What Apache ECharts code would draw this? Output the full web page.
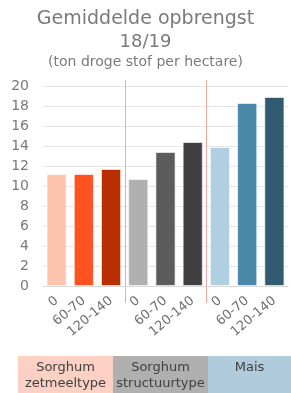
<!DOCTYPE html>
<html lang="nl">
<head>
<meta charset="UTF-8">
<title>Gemiddelde opbrengst</title>
<script src="https://cdn.jsdelivr.net/npm/echarts@6/dist/echarts.min.js"></script>
<style>
  html, body { margin: 0; padding: 0; background: #fff; }
  #main { width: 291px; height: 393px; }
</style>
</head>
<body>
<div id="main"></div>
<script>
// labels under the bars (dose N)
const categories = ['0', '60-70', '120-140', '0', '60-70', '120-140', '0', '60-70', '120-140'];
// ton droge stof per hectare
const values = [11.2, 11.2, 11.7, 10.7, 13.4, 14.4, 13.9, 18.3, 18.9];
const barColors = ['#ffc4ae', '#ff5220', '#b82e00', '#b0b0b0', '#5c5c5c', '#404040', '#b0cfe0', '#4a88aa', '#325a70'];
const groups = ['Sorghum\nzetmeeltype', 'Sorghum\nstructuurtype', 'Mais'];
const groupColors = ['#fdd0c4', '#b0b0b0', '#b0ccdc'];
const yTicks = [0, 20, 2];

const font = 'DejaVu Sans';
const chart = echarts.init(document.getElementById('main'));

const option = {
  animation: false,
  title: [
    { text: 'Gemiddelde opbrengst', left: 'center', top: 5, textStyle: { fontFamily: font, fontSize: 19, fontWeight: 'normal', color: '#7a7a7a' } },
    { text: '18/19', left: 'center', top: 28, textStyle: { fontFamily: font, fontSize: 18, fontWeight: 'normal', color: '#7a7a7a' } },
    { text: '(ton droge stof per hectare)', left: 'center', top: 50, textStyle: { fontFamily: font, fontSize: 14, fontWeight: 'normal', color: '#7a7a7a' } }
  ],
  grid: { left: 43, right: 3, top: 86, bottom: 107, containLabel: false },
  xAxis: {
    type: 'category',
    data: categories,
    axisLine: { lineStyle: { color: '#d9d9d9' } },
    axisTick: { show: false },
    axisLabel: { rotate: 40, color: '#707070', fontFamily: font, fontSize: 13, margin: 13, interval: 0 }
  },
  yAxis: {
    type: 'value',
    min: yTicks[0], max: yTicks[1], interval: yTicks[2],
    axisLine: { show: false },
    axisTick: { show: false },
    splitLine: { lineStyle: { color: '#e6e6e6', width: 1 } },
    axisLabel: { color: '#7a7a7a', fontFamily: font, fontSize: 14, margin: 14 }
  },
  series: [{
    type: 'bar',
    barCategoryGap: '26%',
    data: values.map((v, i) => ({ value: v, itemStyle: { color: barColors[i] } })),
    itemStyle: { borderColor: 'rgba(255,255,255,0.6)', borderWidth: 1 }
  }]
};
chart.setOption(option);

// separators between the three groups + coloured group bands
const graphics = [];
[3, 6].forEach(k => {
  const x = (chart.convertToPixel({ xAxisIndex: 0 }, k - 1) + chart.convertToPixel({ xAxisIndex: 0 }, k)) / 2;
  graphics.push({ type: 'line', shape: { x1: Math.round(x) + 0.5, y1: 80, x2: Math.round(x) + 0.5, y2: 303 },
    style: { stroke: '#f4a6a6', lineWidth: 1 } });
});
const bandX = [18, 113, 208, 291];
groups.forEach((g, i) => {
  graphics.push({
    type: 'rect',
    shape: { x: bandX[i], y: 356, width: bandX[i + 1] - bandX[i], height: 37 },
    style: { fill: groupColors[i] }
  });
  graphics.push({
    type: 'text',
    x: (bandX[i] + bandX[i + 1]) / 2, y: 360,
    style: { text: g, fill: '#404040', font: '13px "' + font + '"', align: 'center', verticalAlign: 'top', lineHeight: 16 }
  });
});
chart.setOption({ graphic: graphics });
</script>
</body>
</html>
